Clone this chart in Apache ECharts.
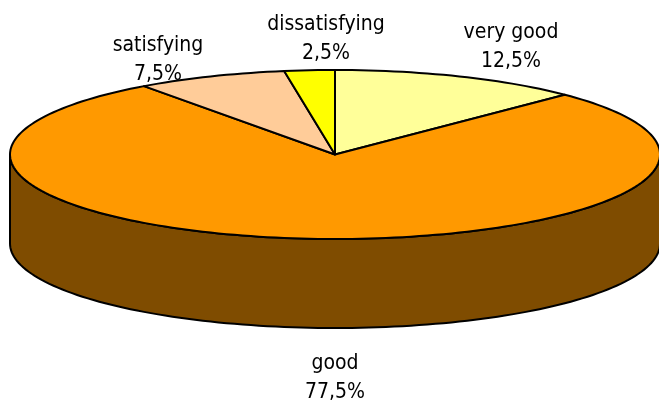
<!DOCTYPE html>
<html lang="en">
<head>
    <meta charset="UTF-8">
    <title>Satisfaction pie</title>
    <script src="https://cdn.jsdelivr.net/npm/echarts@6/dist/echarts.min.js"></script>
    <style>
        body, html { margin: 0; padding: 0; background-color: #ffffff; }
        #chart { width: 659px; height: 403px; }
    </style>
</head>
<body>
    <div id="chart"></div>
    <script>
        const categories = ['very good', 'good', 'satisfying', 'dissatisfying'];
        const percents = [12.5, 77.5, 7.5, 2.5];
        const topColors = ['#FFFF99', '#FF9900', '#FFCC99', '#FFFF00'];
        const sideColors = ['#7F7F4C', '#7F4C00', '#7F664C', '#7F7F00'];

        // pie geometry
        const cx = 335, cy = 154.5, rx = 325, ry = 84.5, depth = 89;
        // where the two-line labels sit
        const labelCenters = [[511, 47.5], [335, 378.5], [158, 60], [326, 39]];

        const total = percents.reduce((a, b) => a + b, 0);

        // angle in degrees, clockwise from 12 o'clock
        function rim(deg, drop) {
            const a = deg * Math.PI / 180;
            return [cx + rx * Math.sin(a), cy - ry * Math.cos(a) + (drop || 0)];
        }

        function arc(from, to, drop) {
            const pts = [];
            const n = Math.max(2, Math.ceil((to - from) / 1.5));
            for (let i = 0; i <= n; i++) {
                pts.push(rim(from + (to - from) * i / n, drop));
            }
            return pts;
        }

        function renderSlice(params, api) {
            const i = params.dataIndex;
            let before = 0;
            for (let k = 0; k < i; k++) before += percents[k];
            const start = before / total * 360;
            const end = (before + api.value(0)) / total * 360;
            const children = [];
            const style = { stroke: '#000', lineWidth: 2, lineJoin: 'round' };

            // outer wall only shows on the front half
            const wallFrom = Math.max(start, 90), wallTo = Math.min(end, 270);
            if (wallTo > wallFrom) {
                children.push({
                    type: 'polygon',
                    shape: { points: arc(wallFrom, wallTo, 0).concat(arc(wallFrom, wallTo, depth).reverse()) },
                    style: Object.assign({ fill: sideColors[i] }, style)
                });
            }
            children.push({
                type: 'polygon',
                shape: { points: [[cx, cy]].concat(arc(start, end, 0)) },
                style: Object.assign({ fill: topColors[i] }, style)
            });
            return { type: 'group', children: children };
        }

        function renderLabel(params, api) {
            const i = params.dataIndex;
            return {
                type: 'text',
                x: labelCenters[i][0],
                y: labelCenters[i][1],
                style: {
                    text: categories[i] + '\n' + String(api.value(0)).replace('.', ',') + '%',
                    font: "21px 'DejaVu Sans Condensed'",
                    lineHeight: 29,
                    fill: '#000',
                    align: 'center',
                    verticalAlign: 'middle'
                }
            };
        }

        const chart = echarts.init(document.getElementById('chart'), null, { renderer: 'canvas' });
        chart.setOption({
            animation: false,
            backgroundColor: '#ffffff',
            series: [
                { type: 'custom', coordinateSystem: 'none', silent: true, z: 1, data: percents.map(v => [v]), renderItem: renderSlice },
                { type: 'custom', coordinateSystem: 'none', silent: true, z: 2, data: percents.map(v => [v]), renderItem: renderLabel }
            ]
        });
    </script>
</body>
</html>
